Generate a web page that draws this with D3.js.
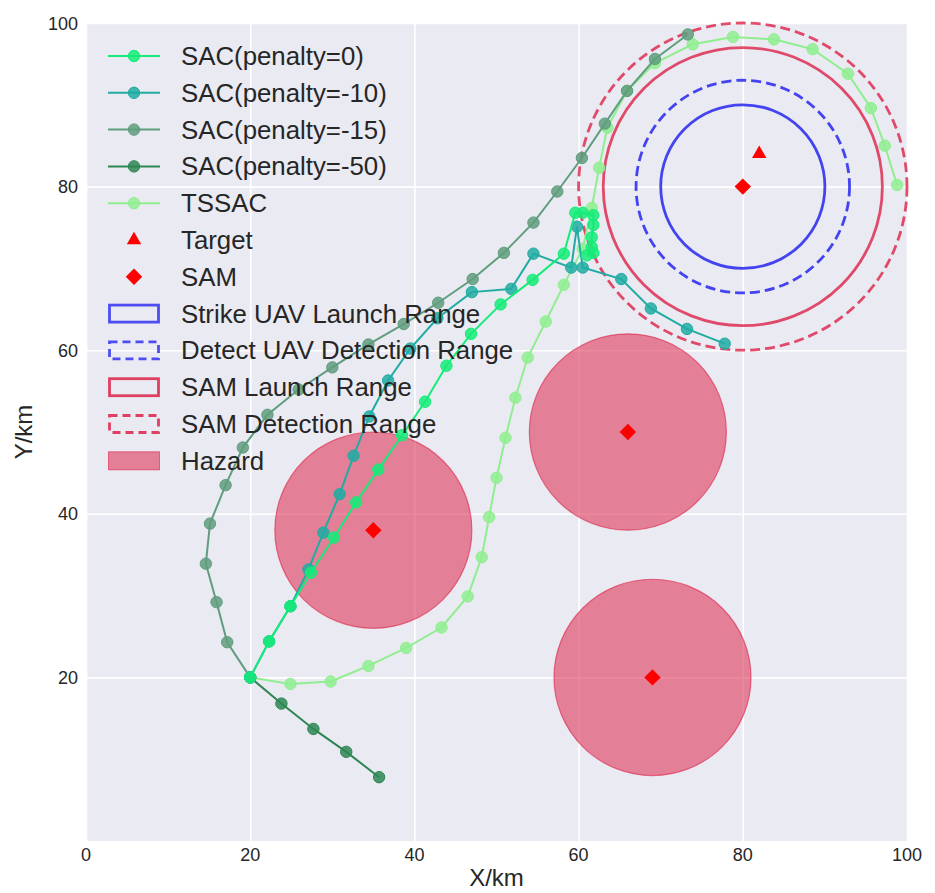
<!DOCTYPE html>
<html>
<head>
<meta charset="utf-8">
<script src="https://cdn.jsdelivr.net/npm/d3@7"></script>
<style>
  body { margin: 0; background: #ffffff; }
  text { font-family: "Liberation Sans", Arial, sans-serif; fill: #262626; }
</style>
</head>
<body>
<div id="chart"></div>
<script>
/****************** data ******************/
const sac0X = [20, 22.3, 24.9, 27.4, 30.2, 32.9, 35.6, 38.5, 41.3, 43.9, 46.9, 50.5, 54.4, 58.2, 59.6, 60.5, 61.8, 61.8, 61.6, 61.6, 61.8, 61.0];
const sac0Y = [20, 24.4, 28.7, 32.8, 37.1, 41.4, 45.4, 49.6, 53.7, 58.1, 62.0, 65.6, 68.6, 71.8, 76.8, 76.8, 76.5, 75.3, 73.8, 72.6, 71.9, 71.6];

const sac10X = [20, 22.3, 24.9, 27.1, 28.9, 30.9, 32.6, 34.5, 36.8, 39.5, 42.8, 47.0, 51.8, 54.5, 59.1, 59.8, 60.5, 65.2, 68.8, 73.2, 77.8];
const sac10Y = [20, 24.4, 28.7, 33.2, 37.7, 42.4, 47.1, 51.9, 56.3, 60.2, 63.9, 67.1, 67.5, 71.8, 70.1, 75.1, 70.1, 68.7, 65.1, 62.6, 60.8];

const sac15X = [20, 17.2, 15.9, 14.6, 15.1, 17.0, 19.1, 22.1, 25.9, 30.0, 34.4, 38.7, 42.9, 47.1, 50.9, 54.5, 57.4, 60.4, 63.2, 65.9, 69.3, 73.3];
const sac15Y = [20, 24.3, 29.2, 33.9, 38.8, 43.5, 48.1, 52.1, 55.2, 57.9, 60.7, 63.2, 65.8, 68.7, 71.9, 75.6, 79.4, 83.5, 87.7, 91.7, 95.6, 98.6];

const sac50X = [20, 23.8, 27.7, 31.7, 35.7];
const sac50Y = [20, 16.8, 13.7, 10.9, 7.8];

const tssacX = [20, 24.9, 29.8, 34.4, 39.0, 43.3, 46.5, 48.2, 49.1, 50.0, 51.1, 52.3, 53.8, 56.0, 58.2, 60.5, 61.6, 62.5, 63.5, 65.9, 69.3, 73.9, 78.8, 83.8, 88.5, 92.8, 95.6, 97.3, 98.8];
const tssacY = [20, 19.2, 19.5, 21.4, 23.6, 26.1, 29.9, 34.7, 39.6, 44.4, 49.3, 54.2, 59.1, 63.5, 68.0, 72.4, 77.4, 82.3, 87.2, 91.7, 95.1, 97.4, 98.3, 98.0, 96.8, 93.8, 89.6, 85.0, 80.2];

const targetX = [82];
const targetY = [84];

const samX = [35, 66, 69, 80];
const samY = [38, 50, 20, 80];

const hazardX = [35, 66, 69];
const hazardY = [38, 50, 20];
const hazardR = 12;

const rangeCenter = [80, 80];
const strikeLaunchR = 10;
const detectR = 13;
const samLaunchR = 17;
const samDetectR = 20;

const xTicks = [0, 20, 40, 60, 80, 100];
const yTicks = [20, 40, 60, 80, 100];

const seriesNames = ["SAC(penalty=0)", "SAC(penalty=-10)", "SAC(penalty=-15)", "SAC(penalty=-50)", "TSSAC"];

/****************** layout ******************/
const svgWidth = 935;
const svgHeight = 893;
const margin = { top: 23, left: 86 };
const chartWidth = 821;
const chartHeight = 818;

const crimson = "#dc143c";
const blue = "#2626f0";

const svg = d3.select("#chart")
  .append("svg")
  .attr("width", svgWidth)
  .attr("height", svgHeight);

const g = svg.append("g")
  .attr("transform", `translate(${margin.left},${margin.top})`);

const x = d3.scaleLinear().domain([0, 100]).range([0, chartWidth]);
const y = d3.scaleLinear().domain([0, 100]).range([chartHeight, 0]);

// background + grid
g.append("rect")
  .attr("width", chartWidth)
  .attr("height", chartHeight)
  .attr("fill", "#eaeaf2");

g.append("g")
  .call(d3.axisBottom(x).tickValues(xTicks).tickSize(-chartHeight).tickFormat(""))
  .attr("transform", `translate(0,${chartHeight})`)
  .call(a => a.select(".domain").remove())
  .selectAll("line").attr("stroke", "#ffffff").attr("stroke-width", 1.6);

g.append("g")
  .call(d3.axisLeft(y).tickValues(yTicks).tickSize(-chartWidth).tickFormat(""))
  .call(a => a.select(".domain").remove())
  .selectAll("line").attr("stroke", "#ffffff").attr("stroke-width", 1.6);

// tick labels
g.selectAll(".xlab")
  .data(xTicks)
  .enter()
  .append("text")
  .attr("x", d => x(d))
  .attr("y", chartHeight + 20)
  .attr("text-anchor", "middle")
  .attr("font-size", "18px")
  .text(d => d);

g.selectAll(".ylab")
  .data(yTicks)
  .enter()
  .append("text")
  .attr("x", -8)
  .attr("y", d => y(d) + 6.5)
  .attr("text-anchor", "end")
  .attr("font-size", "18px")
  .text(d => d);

// axis titles
g.append("text")
  .attr("x", chartWidth / 2)
  .attr("y", chartHeight + 45)
  .attr("text-anchor", "middle")
  .attr("font-size", "24px")
  .text("X/km");

g.append("text")
  .attr("transform", "rotate(-90)")
  .attr("x", -chartHeight / 2)
  .attr("y", -54)
  .attr("text-anchor", "middle")
  .attr("font-size", "24px")
  .text("Y/km");

/****************** hazards and ranges ******************/
const rx = r => x(r) - x(0);
const ry = r => y(0) - y(r);

g.selectAll(".hazard")
  .data(hazardX)
  .enter()
  .append("ellipse")
  .attr("cx", d => x(d))
  .attr("cy", (d, i) => y(hazardY[i]))
  .attr("rx", rx(hazardR))
  .attr("ry", ry(hazardR))
  .attr("fill", crimson)
  .attr("fill-opacity", 0.5)
  .attr("stroke", crimson)
  .attr("stroke-opacity", 0.55)
  .attr("stroke-width", 1.2);

const rings = [
  { r: strikeLaunchR, color: blue, dash: null, op: 0.85 },
  { r: detectR, color: blue, dash: "10,5", op: 0.85 },
  { r: samLaunchR, color: crimson, dash: null, op: 0.75 },
  { r: samDetectR, color: crimson, dash: "10,5", op: 0.75 }
];

g.selectAll(".ring")
  .data(rings)
  .enter()
  .append("ellipse")
  .attr("cx", x(rangeCenter[0]))
  .attr("cy", y(rangeCenter[1]))
  .attr("rx", d => rx(d.r))
  .attr("ry", d => ry(d.r))
  .attr("fill", "none")
  .attr("stroke", d => d.color)
  .attr("stroke-opacity", d => d.op)
  .attr("stroke-width", 2.8)
  .attr("stroke-dasharray", d => d.dash);

/****************** trajectories ******************/
const series = [
  { name: seriesNames[0], xs: sac0X, ys: sac0Y, color: "#14ec78" },
  { name: seriesNames[1], xs: sac10X, ys: sac10Y, color: "#20aca2" },
  { name: seriesNames[2], xs: sac15X, ys: sac15Y, color: "#609d7e" },
  { name: seriesNames[3], xs: sac50X, ys: sac50Y, color: "#2e8653" },
  { name: seriesNames[4], xs: tssacX, ys: tssacY, color: "#90ee90" }
];

const line = d3.line().x(d => x(d[0])).y(d => y(d[1]));

// draw in reverse so SAC(penalty=0) ends on top like the picture
series.slice().reverse().forEach(s => {
  const pts = s.xs.map((v, i) => [v, s.ys[i]]);
  const sg = g.append("g");
  sg.append("path")
    .attr("d", line(pts))
    .attr("fill", "none")
    .attr("stroke", s.color)
    .attr("stroke-width", 2);
  sg.selectAll("circle")
    .data(pts)
    .enter()
    .append("circle")
    .attr("cx", d => x(d[0]))
    .attr("cy", d => y(d[1]))
    .attr("r", 5.7)
    .attr("fill", s.color)
    .attr("fill-opacity", 0.85)
    .attr("stroke", s.color)
    .attr("stroke-width", 1);
});

/****************** target and SAM markers ******************/
const tri = d3.symbol().type(d3.symbolTriangle).size(90);
const dia = d3.symbol().type(d3.symbolSquare).size(135);

g.selectAll(".target")
  .data(targetX)
  .enter()
  .append("path")
  .attr("d", tri)
  .attr("transform", (d, i) => `translate(${x(d)},${y(targetY[i])})`)
  .attr("fill", "#ff0000");

g.selectAll(".sam")
  .data(samX)
  .enter()
  .append("path")
  .attr("d", dia)
  .attr("transform", (d, i) => `translate(${x(d)},${y(samY[i])}) rotate(45)`)
  .attr("fill", "#ff0000");

/****************** legend ******************/
const legend = svg.append("g").attr("transform", "translate(108,56)");
const rowH = 36.8;
const hw = 52;

const legendItems = [
  ...series.map(s => ({ label: s.name, kind: "line", color: s.color })),
  { label: "Target", kind: "target" },
  { label: "SAM", kind: "sam" },
  { label: "Strike UAV Launch Range", kind: "box", color: blue, dash: null },
  { label: "Detect UAV Detection Range", kind: "box", color: blue, dash: "8,5" },
  { label: "SAM Launch Range", kind: "box", color: crimson, dash: null },
  { label: "SAM Detection Range", kind: "box", color: crimson, dash: "8,5" },
  { label: "Hazard", kind: "fill", color: crimson }
];

legendItems.forEach((item, i) => {
  const row = legend.append("g").attr("transform", `translate(0,${i * rowH})`);
  if (item.kind === "line") {
    row.append("line")
      .attr("x1", 0).attr("x2", hw)
      .attr("stroke", item.color).attr("stroke-width", 2);
    row.append("circle")
      .attr("cx", hw / 2).attr("r", 5.7)
      .attr("fill", item.color).attr("fill-opacity", 0.85)
      .attr("stroke", item.color);
  } else if (item.kind === "target") {
    row.append("path").attr("d", tri).attr("transform", `translate(${hw / 2},0)`).attr("fill", "#ff0000");
  } else if (item.kind === "sam") {
    row.append("path").attr("d", dia).attr("transform", `translate(${hw / 2},0) rotate(45)`).attr("fill", "#ff0000");
  } else if (item.kind === "box") {
    row.append("rect")
      .attr("x", 1.5).attr("y", -8.5)
      .attr("width", hw - 3).attr("height", 17)
      .attr("fill", "none")
      .attr("stroke", item.color).attr("stroke-opacity", 0.8)
      .attr("stroke-width", 2.8)
      .attr("stroke-dasharray", item.dash);
  } else {
    row.append("rect")
      .attr("x", 0.5).attr("y", -9)
      .attr("width", hw - 1).attr("height", 18)
      .attr("fill", item.color).attr("fill-opacity", 0.5)
      .attr("stroke", item.color).attr("stroke-opacity", 0.55);
  }
  row.append("text")
    .attr("x", 73)
    .attr("y", 9)
    .attr("font-size", "25.8px")
    .text(item.label);
});
</script>
</body>
</html>
